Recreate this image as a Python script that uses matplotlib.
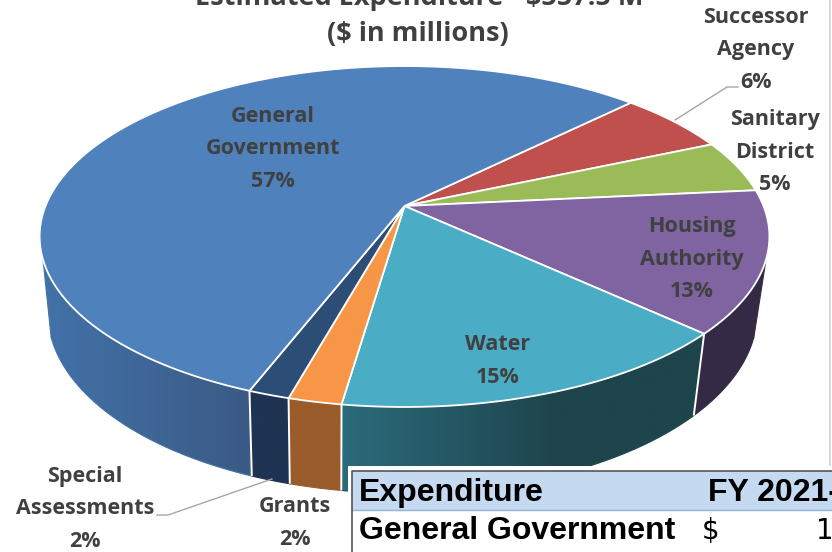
import matplotlib
matplotlib.use('Agg')
import matplotlib.pyplot as plt
import numpy as np
from matplotlib.colors import to_rgb
from matplotlib.patches import Polygon, Rectangle

categories = ['Successor\nAgency', 'Sanitary\nDistrict', 'Housing\nAuthority', 'Water',
              'Grants', 'Special\nAssessments', 'General\nGovernment']
percents = [5.9, 5.0, 13.45, 15.4, 2.0, 1.55, 56.7]
title_lines = ['Estimated Expenditure - $557.5 M', '($ in millions)']
table_header = ['Expenditure', 'FY 2021-22']
table_row = ['General Government', '$', '19']

top_colors = ['#c0504d', '#9bbb59', '#8064a2', '#4bacc6', '#f79646', '#2c4d75', '#4f81bd']
# left and right wall shade for each slice, only the front ones get seen
wall_colors = [('#6f2d2b', '#6f2d2b'), ('#5a6e33', '#5a6e33'), ('#352a45', '#352a45'),
               ('#2b6b7c', '#1e444c'), ('#9a5c2a', '#9a5c2a'), ('#1f3352', '#1f3352'),
               ('#4272a8', '#3b5a85')]
wall_ramp = [1, 1, 1, 0.6, 1, 1, 1]
label_xy = [(756, 50), (775, 152), (692, 259), (498, 361), (295, 523), (85, 509), (273, 149)]

start_deg = 45.2
persp = 0.179
top_geom = (404.5, 206.0, 359.0, 165.0)
bottom_geom = (402.5, 280.0, 349.0, 175.0)
# the wall only shows between these two angles
wall_from, wall_to = np.radians(108), np.radians(252)
label_color = '#404040'
label_font = 'Open Sans'


def project(theta, geom):
    cx, cy, bx, by = geom
    u, v = np.sin(theta), np.cos(theta)
    d = 1 + persp * v
    return cx + bx * u / d, cy - by * v / d


fig = plt.figure(figsize=(8.32, 5.52), dpi=100)
ax = fig.add_axes([0, 0, 1, 1])

edges = np.radians(start_deg + np.cumsum([0] + percents) * 3.6)

# side walls first, the top face covers the upper edge of them
for i in range(len(percents)):
    lo, hi = max(edges[i], wall_from), min(edges[i + 1], wall_to)
    if lo >= hi:
        continue
    th = np.linspace(lo, hi, 120)
    xt, yt = project(th, top_geom)
    xb, yb = project(th, bottom_geom)
    pts = list(zip(xt, yt)) + list(zip(xb[::-1], yb[::-1]))
    x0, x1 = min(xt.min(), xb.min()), max(xt.max(), xb.max())
    ramp = np.clip(np.linspace(0, 1, 256) / wall_ramp[i], 0, 1)[:, None]
    grad = np.array(to_rgb(wall_colors[i][0])) * (1 - ramp) + np.array(to_rgb(wall_colors[i][1])) * ramp
    im = ax.imshow(grad[None, :, :], extent=[x0, x1, 552, 0], aspect='auto', zorder=2, interpolation='bilinear')
    im.set_clip_path(Polygon(pts, closed=True, transform=ax.transData))
    # soften the clipped outer edge
    edge_c = wall_colors[i][1] if xb.mean() > 405 else wall_colors[i][0]
    ax.plot(xb, yb, color=edge_c, lw=0.8, zorder=2.5)
    if hi == wall_to:
        ax.plot([xt[-1], xb[-1]], [yt[-1], yb[-1]], color=edge_c, lw=0.8, zorder=2.5)
    if lo == wall_from:
        ax.plot([xt[0], xb[0]], [yt[0], yb[0]], color=edge_c, lw=0.8, zorder=2.5)

for e in edges[1:7]:
    if np.cos(e) < 0:
        xt, yt = project(e, top_geom)
        xb, yb = project(e, bottom_geom)
        ax.plot([xt, xb], [yt, yb], color='white', lw=1.4, zorder=3, solid_capstyle='butt')

# top face
for i in range(len(percents)):
    th = np.linspace(edges[i], edges[i + 1], 120)
    x, y = project(th, top_geom)
    pts = [(top_geom[0], top_geom[1])] + list(zip(x, y))
    ax.add_patch(Polygon(pts, closed=True, facecolor=top_colors[i], edgecolor='white', lw=1.3, zorder=4))

# leader lines
ax.plot([738, 727, 675], [87, 87, 120], color='#a6a6a6', lw=1.0, zorder=5)
ax.plot([157, 168, 272], [515, 515, 479], color='#a6a6a6', lw=1.0, zorder=5)

for name, pct, (x, y) in zip(categories, percents, label_xy):
    ax.text(x, y, '{}\n{:.0f}%'.format(name, pct), ha='center', va='center', multialignment='center',
            fontsize=15.5, fontweight='bold', family=label_font, color=label_color, linespacing=1.7, zorder=6)

ax.text(419, -2, title_lines[0], ha='center', va='center', fontsize=19.5, fontweight='bold',
        family=label_font, color=label_color, zorder=6)
ax.text(418, 34, title_lines[1], ha='center', va='center', fontsize=19.5, fontweight='bold',
        family=label_font, color=label_color, zorder=6)

ax.plot([830, 830], [0, 466], color='#d4d4d4', lw=1.3, zorder=1)

# table pasted over the lower right corner
ax.add_patch(Rectangle((348, 466), 490, 90, facecolor='white', edgecolor='none', zorder=7))
ax.add_patch(Rectangle((352, 471), 490, 39, facecolor='#c5d9f1', edgecolor='none', zorder=8))
ax.plot([352, 832], [510, 510], color='#95b3d7', lw=1.0, zorder=9)
ax.plot([352, 352, 832], [552, 471, 471], color='#555555', lw=1.2, zorder=9)
bold_font = 'Liberation Sans'
ax.text(359, 493, table_header[0], ha='left', va='center', fontsize=23, fontweight='bold',
        family=bold_font, color='black', zorder=10)
ax.text(708, 493, table_header[1], ha='left', va='center', fontsize=23, fontweight='bold',
        family=bold_font, color='black', zorder=10)
ax.text(359, 531, table_row[0], ha='left', va='center', fontsize=23, fontweight='bold',
        family=bold_font, color='black', zorder=10)
ax.text(702, 531, table_row[1], ha='left', va='center', fontsize=20, family='DejaVu Sans', color='black', zorder=10)
ax.text(816, 531, table_row[2], ha='left', va='center', fontsize=20, family='DejaVu Sans', color='black', zorder=10)

ax.set_xlim(0, 832)
ax.set_ylim(552, 0)
ax.axis('off')
plt.savefig('out.png', dpi=100)
